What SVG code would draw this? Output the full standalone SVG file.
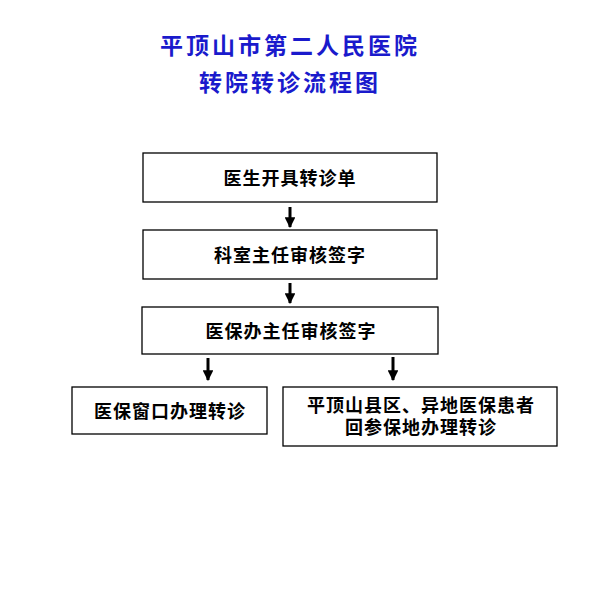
<svg xmlns="http://www.w3.org/2000/svg" width="604" height="605" viewBox="0 0 604 605">
<style>
.title{font-family:"Liberation Serif","Noto Sans CJK SC",serif;font-weight:bold;font-size:23px;fill:#1a1acc;text-anchor:middle;letter-spacing:3px}
.box{fill:#fff;stroke:#000;stroke-width:1.3}
.t{font-family:"Liberation Serif","Noto Sans CJK SC",serif;font-weight:bold;font-size:18px;fill:#000;text-anchor:middle;letter-spacing:1px}
.c{stroke:#000;stroke-width:3;fill:none}
</style>
<defs>
<marker id="ah" viewBox="0 0 10 10" refX="9" refY="5" markerWidth="3.6" markerHeight="3.6" markerUnits="strokeWidth" orient="auto">
<path d="M0,0 L10,5 L0,10 z" fill="#000"/>
</marker>
</defs>
<rect width="604" height="605" fill="#fff"/>
<g id="title">
<text class="title" x="290" y="54">平顶山市第二人民医院</text>
<text class="title" x="290" y="91">转院转诊流程图</text>
</g>
<g id="n1"><rect class="box" x="143" y="153" width="294" height="49"/><text class="t" x="290" y="185">医生开具转诊单</text></g>
<g id="n2"><rect class="box" x="143" y="230" width="294" height="49"/><text class="t" x="290" y="262">科室主任审核签字</text></g>
<g id="n3"><rect class="box" x="142" y="307" width="296" height="47"/><text class="t" x="291" y="338">医保办主任审核签字</text></g>
<g id="n4"><rect class="box" x="72" y="387" width="195" height="47"/><text class="t" x="170" y="418">医保窗口办理转诊</text></g>
<g id="n5"><rect class="box" x="283" y="387" width="274" height="59"/><text class="t" x="421" y="412">平顶山县区、异地医保患者</text><text class="t" x="421" y="434">回参保地办理转诊</text></g>
<g id="connectors">
<line class="c" x1="290" y1="207" x2="290" y2="227" marker-end="url(#ah)"/>
<line class="c" x1="290" y1="283" x2="290" y2="303" marker-end="url(#ah)"/>
<line class="c" x1="208" y1="358" x2="208" y2="380" marker-end="url(#ah)"/>
<line class="c" x1="393" y1="357" x2="393" y2="380" marker-end="url(#ah)"/>
</g>
</svg>
